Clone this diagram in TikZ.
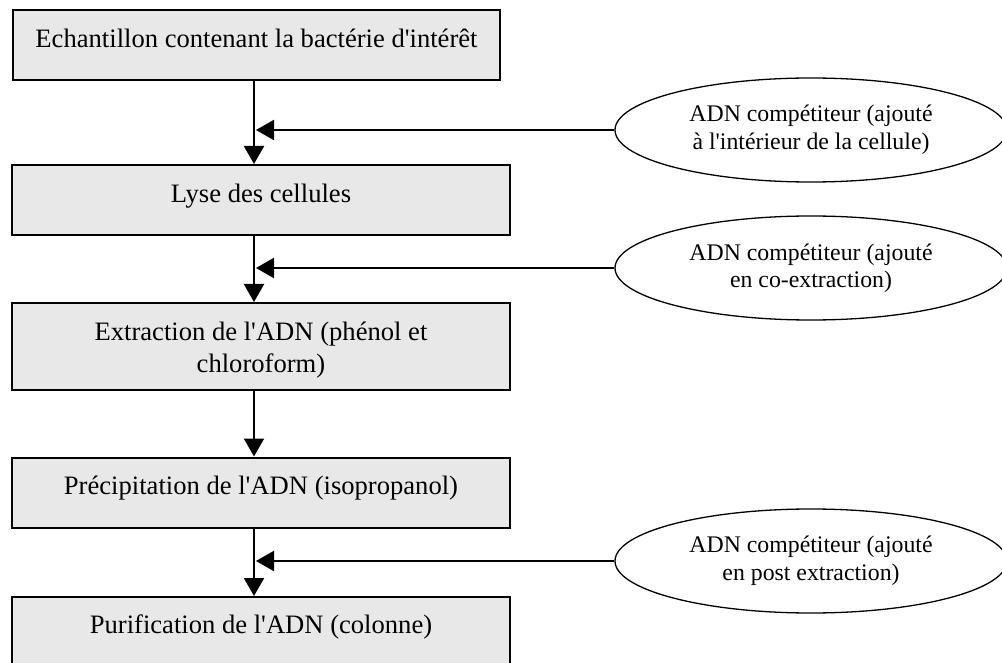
\documentclass[tikz,border=0pt]{standalone}
\usepackage{fontspec}
\setmainfont{Liberation Serif}[Ligatures=TeXOff]
\usetikzlibrary{shapes.geometric,arrows.meta}
\tikzset{
  stepbox/.style={draw=black, line width=2pt, fill=black!9, rectangle, inner sep=0pt,
    minimum height=70pt, font=\fontsize{26.6}{32}\selectfont, align=center},
  onebox/.style={stepbox, text height=12pt, text depth=6pt},
  addell/.style={draw=black, line width=1.3pt, ellipse, inner sep=0pt,
    minimum width=392pt, minimum height=104pt, align=center,
    font=\fontsize{23.8}{28}\selectfont, text height=47pt, text depth=7pt},
  arr/.style={line width=2pt, -{Triangle[length=18pt,width=20pt]}},
}
\begin{document}
\begin{tikzpicture}[x=1pt,y=-1pt]
\useasboundingbox (0,0) rectangle (1002,663);
\clip (0,0) rectangle (1002,663);
\fill[white] (0,0) rectangle (1002,663);

\node[onebox, minimum width=487pt] (b1) at (256.5,45) {Echantillon contenant la bactérie d'intérêt};
\node[onebox, minimum width=498pt, text height=11pt] (b2) at (261,200) {Lyse des cellules};
\node[stepbox, minimum width=498pt, minimum height=87pt, text height=58pt, text depth=7pt] (b3) at (261,346.5) {Extraction de l'ADN (phénol et\\chloroform)};
\node[onebox, minimum width=498pt, text height=10pt, text depth=7pt] (b4) at (261,492.5) {Précipitation de l'ADN (isopropanol)};
\node[onebox, minimum width=498pt, text height=10pt, text depth=8pt] (b5) at (261,632) {Purification de l'ADN (colonne)};

\node[addell] (e1) at (811,130) {ADN compétiteur (ajouté\\à l'intérieur de la cellule)};
\node[addell] (e2) at (811,268) {ADN compétiteur (ajouté\\en co-extraction)};
\node[addell, text height=45pt] (e3) at (811,561) {ADN compétiteur (ajouté\\en post extraction)};

\coordinate (j1) at (254,130);
\coordinate (j2) at (254,268);
\coordinate (j3) at (254,561);

\draw[arr] (b1.south -| j1) -- (b2.north -| j1);
\draw[arr] (b2.south -| j2) -- (b3.north -| j2);
\draw[arr] (b3.south -| j2) -- (b4.north -| j2);
\draw[arr] (b4.south -| j3) -- (b5.north -| j3);

\draw[arr] (e1.west) -- ([xshift=2pt]j1);
\draw[arr] (e2.west) -- ([xshift=2pt]j2);
\draw[arr] (e3.west) -- ([xshift=2pt]j3);
\end{tikzpicture}
\end{document}
